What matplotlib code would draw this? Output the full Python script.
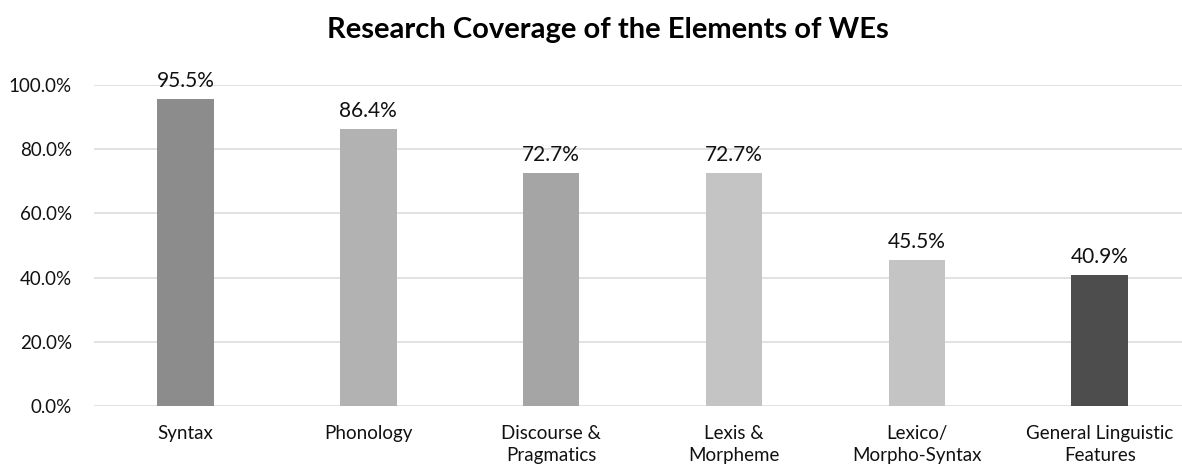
import matplotlib
matplotlib.use("Agg")
import matplotlib.pyplot as plt
from matplotlib.ticker import PercentFormatter

plt.rcParams['font.family'] = ['Lato', 'DejaVu Sans']

categories = ["Syntax", "Phonology", "Discourse &\nPragmatics", "Lexis &\nMorpheme",
              "Lexico/\nMorpho-Syntax", "General Linguistic\nFeatures"]
coverage = [95.5, 86.4, 72.7, 72.7, 45.5, 40.9]
bar_colors = ["#8c8c8c", "#b2b2b2", "#a5a5a5", "#c4c4c4", "#c4c4c4", "#4d4d4d"]
yticks = [0, 20, 40, 60, 80, 100]

W, H = 1182, 469
fig = plt.figure(figsize=(W / 100, H / 100), dpi=100)
ax = fig.add_axes([94 / W, 1 - 406 / H, (1182 - 94) / W, (406 - 85) / H])

x = list(range(len(categories)))
ax.bar(x, coverage, width=0.31, color=bar_colors, zorder=3)
for xi, v in zip(x, coverage):
    ax.text(xi, v + 2.5, f"{v:.1f}%", ha="center", va="bottom", fontsize=15, color="#111111")

ax.set_ylim(0, 100)
ax.set_xlim(-0.5, 5.45)
ax.set_yticks(yticks)
ax.yaxis.set_major_formatter(PercentFormatter(decimals=1))
ax.grid(axis="y", color="#dddddd", linewidth=1.2, zorder=0)
for s in ax.spines.values():
    s.set_visible(False)
ax.tick_params(axis="both", length=0, colors="#111111")
ax.tick_params(axis="y", pad=16, labelsize=13.5)
ax.tick_params(axis="x", pad=14, labelsize=13.5)
ax.set_xticks(x)
ax.set_xticklabels(categories, linespacing=1.35)

fig.text(608 / W, 1 - 30 / H, "Research Coverage of the Elements of WEs",
         ha="center", va="center", fontsize=21, fontweight="bold", color="#000000")

fig.savefig("out.png", dpi=100)
